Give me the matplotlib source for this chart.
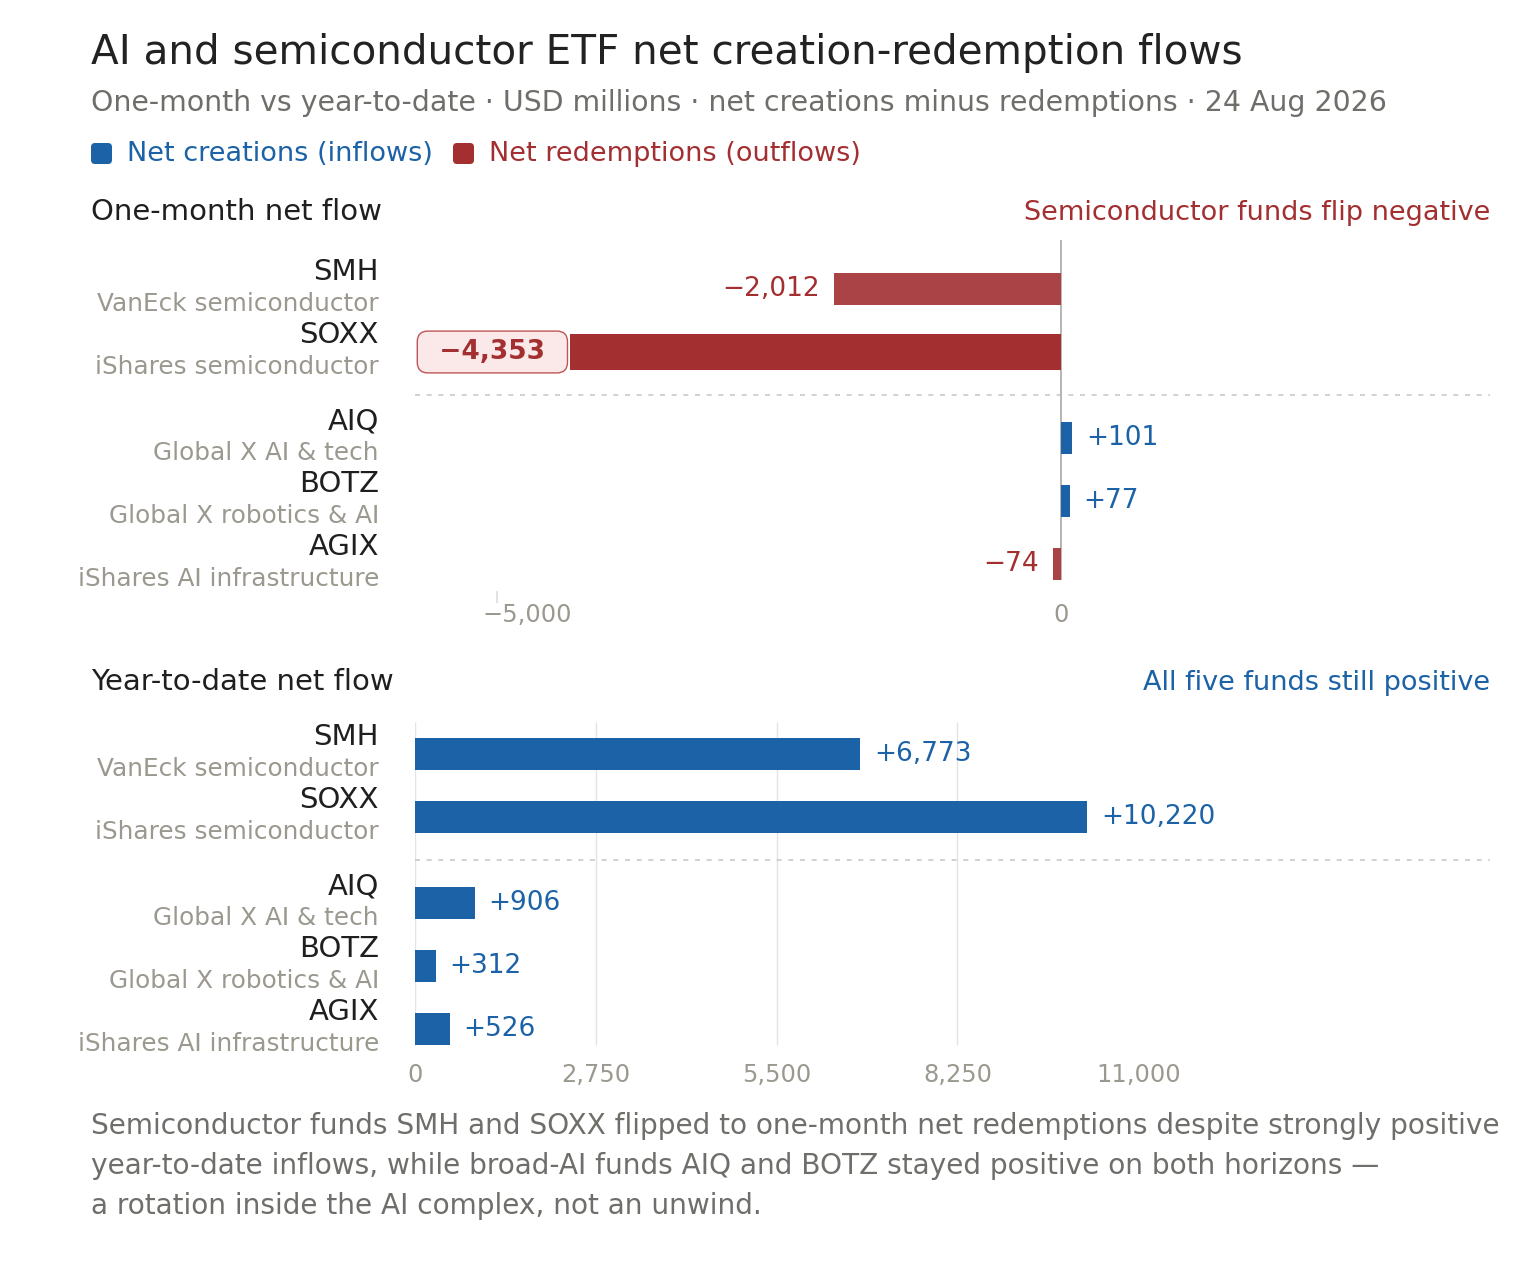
import numpy as np
import matplotlib.pyplot as plt
from matplotlib.patches import FancyBboxPatch
from matplotlib.transforms import ScaledTranslation

tickers = ["SMH", "SOXX", "AIQ", "BOTZ", "AGIX"]
fund_names = ["VanEck semiconductor", "iShares semiconductor", "Global X AI & tech",
              "Global X robotics & AI", "iShares AI infrastructure"]
month_flow = [-2012, -4353, 101, 77, -74]
ytd_flow = [6773, 10220, 906, 312, 526]
month_ticks = [-5000, 0]
ytd_ticks = [0, 2750, 5500, 8250, 11000]
highlight = "SOXX"
footnote = [
    "Semiconductor funds SMH and SOXX flipped to one-month net redemptions despite strongly positive",
    "year-to-date inflows, while broad-AI funds AIQ and BOTZ stayed positive on both horizons \u2014",
    "a rotation inside the AI complex, not an unwind.",
]

BLUE = "#1c62a6"
RED = "#a32f31"
RED_SOFT = "#aa4345"
INK = "#1f1f1f"
GREY = "#6e6e6a"
MUTED = "#9b988f"

W, H = 1536, 1264
fig = plt.figure(figsize=(W / 100, H / 100), dpi=100)
fig.patch.set_facecolor("white")


def fx(px):
    return px / W


def fy(py):
    return 1 - py / H


# rows: two semiconductor funds, gap, three broad AI funds
gap = 0.365
pos = np.array([i + (gap if i >= 2 else 0) for i in range(len(tickers))])
sep_y = (pos[1] + pos[2]) / 2
y_top, y_bot = -0.778, 4.81


def fmt(v):
    return f"{v:+,}".replace("-", "\u2212")


def panel(ax, vals, xlim, ticks, month):
    ax.set_xlim(*xlim)
    ax.set_ylim(y_bot, y_top)
    for s in ax.spines.values():
        s.set_visible(False)
    ax.set_yticks([])
    ax.set_xticks(ticks)
    ax.set_xticklabels([fmt(t).replace("+", "") if t != 0 else "0" for t in ticks])
    ax.tick_params(axis="x", length=0, pad=8 if month else 4.5, labelsize=17.4, labelcolor=MUTED)
    if month:
        ax.vlines(0, y_top, pos[-1] + 0.25, color="#b0b0b0", lw=1.3, zorder=1)
        ax.vlines(ticks[0], y_bot - 0.02, y_bot + 0.18, color="#dddddd", lw=1.2, clip_on=False)
    else:
        ax.vlines(ticks[:-1], -0.51, pos[-1] + 0.25, color="#e3e3e3", lw=1.0, zorder=0)
    ax.axhline(sep_y, color="#c9c9c9", lw=1.2, ls=(0, (3, 4)), zorder=0)

    for i, v in enumerate(vals):
        hot = month and tickers[i] == highlight
        if v >= 0:
            col = BLUE
        else:
            col = RED if hot else RED_SOFT
        ax.barh(pos[i], v, height=0.56 if hot else 0.5, color=col, zorder=2)
        side = 1 if v >= 0 else -1
        if hot:
            ax.annotate(" \u2009" + fmt(v) + "\u2009 ", xy=(v, pos[i]), xytext=(-7.5, 0),
                        textcoords="offset points", ha="right", va="center",
                        fontsize=19, fontweight="bold", color=RED,
                        bbox=dict(boxstyle="round,pad=0.3,rounding_size=0.4",
                                  fc="#fbe9e9", ec="#bf5456", lw=1.0))
        else:
            ax.annotate(fmt(v), xy=(v, pos[i]), xytext=(10 * side, 0),
                        textcoords="offset points", ha="left" if v >= 0 else "right",
                        va="center", fontsize=19, color=BLUE if v >= 0 else RED)

        ax.annotate(tickers[i], xy=(0, pos[i]), xycoords=("axes fraction", "data"),
                    xytext=(-26, 12), textcoords="offset points", ha="right",
                    va="center", fontsize=21, color=INK)
        ax.annotate(fund_names[i], xy=(0, pos[i]), xycoords=("axes fraction", "data"),
                    xytext=(-26, -10.5), textcoords="offset points", ha="right",
                    va="center", fontsize=17.8, color=MUTED)


ax1 = fig.add_axes([fx(415), fy(592), fx(1490) - fx(415), (592 - 240) / H])
panel(ax1, month_flow, (-5727, 3803), month_ticks, True)
# the leftmost month label sits a little right of its tick in the original
lab = ax1.get_xticklabels()[0]
lab.set_transform(lab.get_transform() + ScaledTranslation(0.30, 0, fig.dpi_scale_trans))

ax2 = fig.add_axes([fx(415), fy(1057), fx(1490) - fx(415), (1057 - 705) / H])
panel(ax2, ytd_flow, (0, 16350), ytd_ticks, False)

# header
fig.text(fx(91), fy(64), "AI and semiconductor ETF net creation-redemption flows",
         fontsize=29.2, color="#222222", va="baseline")
fig.text(fx(91), fy(111),
         "One-month vs year-to-date \u00b7 USD millions \u00b7 net creations minus redemptions \u00b7 24 Aug 2026",
         fontsize=20.4, color=GREY, va="baseline")

# legend
for x0, col, txt in [(91, BLUE, "Net creations (inflows)"), (453, RED, "Net redemptions (outflows)")]:
    fig.add_artist(FancyBboxPatch((x0 / 100, (H - 164) / 100), 0.21, 0.21,
                                  boxstyle="round,pad=0,rounding_size=0.04",
                                  transform=fig.dpi_scale_trans, fc=col, ec="none"))
    fig.text(fx(x0 + 36), fy(161), txt, fontsize=19.5, color=col, va="baseline")

# section headings
fig.text(fx(91), fy(220), "One-month net flow", fontsize=21, color=INK, va="baseline")
fig.text(fx(1490), fy(220), "Semiconductor funds flip negative", fontsize=19.5,
         color=RED, ha="right", va="baseline")
fig.text(fx(91), fy(690), "Year-to-date net flow", fontsize=21, color=INK, va="baseline")
fig.text(fx(1490), fy(690), "All five funds still positive", fontsize=19.5,
         color=BLUE, ha="right", va="baseline")

# footnote
for k, line in enumerate(footnote):
    fig.text(fx(91), fy(1134 + 40 * k), line, fontsize=20.2, color=GREY, va="baseline")

fig.savefig("out.png", dpi=100, facecolor="white")
